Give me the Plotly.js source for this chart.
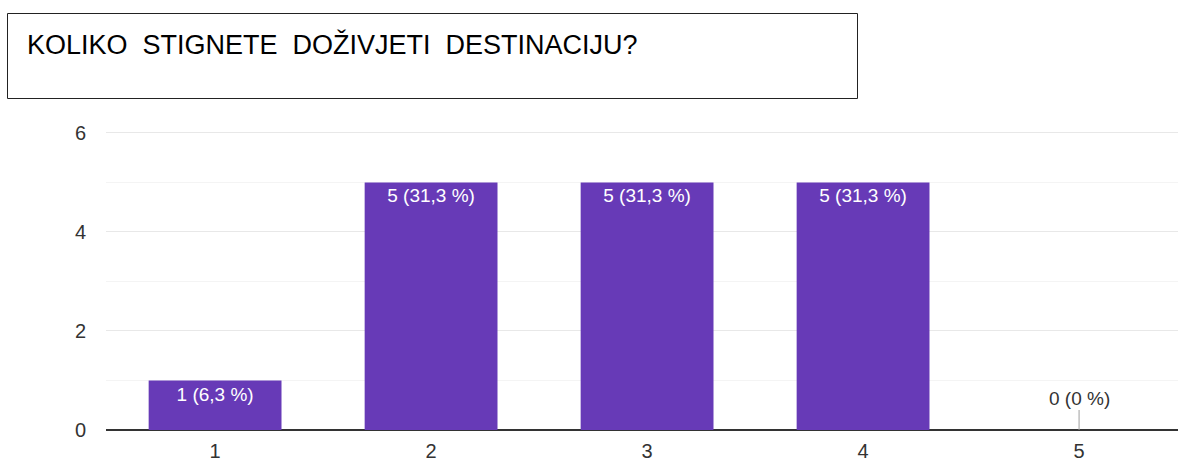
<!DOCTYPE html>
<html>
<head>
<meta charset="utf-8">
<script src="https://cdn.plot.ly/plotly-3.0.1.min.js"></script>
<style>
html,body{margin:0;padding:0;background:#fff;}
#chart{width:1178px;height:461px;}
</style>
</head>
<body>
<div id="chart"></div>
<script>
const categories = ['1', '2', '3', '4', '5'];
const counts = [1, 5, 5, 5, 0];
const percentLabels = ['6,3 %', '31,3 %', '31,3 %', '31,3 %', '0 %'];
const yTickValues = [0, 2, 4, 6];
const chartTitle = 'KOLIKO\u00a0 STIGNETE\u00a0 DOŽIVJETI\u00a0 DESTINACIJU?';

const W = 1178, H = 461;
const L = 106, R = 0, T = 130, B = 31;
const pw = W - L - R, ph = H - T - B;
function px2x(p){ return (p - L) / pw; }
function py2y(p){ return (H - B - p) / ph; }

const labels = counts.map((c, i) => c + ' (' + percentLabels[i] + ')');
const barText = counts.map((c, i) => c > 0 ? labels[i] : '');

const trace = {
  type: 'bar',
  x: categories,
  y: counts,
  text: barText,
  textposition: 'inside',
  insidetextanchor: 'end',
  textangle: 0,
  textfont: {family: 'Liberation Sans, Arial, sans-serif', size: 19, color: '#ffffff'},
  marker: {color: '#673ab7', line: {width: 0}},
  width: 0.615,
  hoverinfo: 'none',
  cliponaxis: false
};

const annotations = [{
  xref: 'paper', yref: 'paper',
  x: px2x(25), y: py2y(44),
  xanchor: 'left', yanchor: 'middle',
  text: chartTitle,
  showarrow: false,
  font: {family: 'Liberation Sans, Arial, sans-serif', size: 27, color: '#000000'}
}];
counts.forEach((c, i) => {
  if (c === 0) {
    annotations.push({
      x: i, y: c, xref: 'x', yref: 'y',
      text: labels[i],
      showarrow: true, arrowhead: 0, arrowwidth: 1, arrowcolor: '#9e9e9e',
      ax: 0, ay: -32, standoff: 0,
      font: {family: 'Liberation Sans, Arial, sans-serif', size: 19, color: '#333333'}
    });
  }
});

const layout = {
  width: W, height: H,
  margin: {l: L, r: R, t: T, b: B, pad: 0},
  paper_bgcolor: '#ffffff', plot_bgcolor: '#ffffff',
  showlegend: false,
  xaxis: {
    type: 'category',
    range: [-0.505, 4.458],
    showgrid: false,
    zeroline: false,
    showline: false,
    ticks: '',
    ticklabelstandoff: 7,
    tickfont: {family: 'Liberation Sans, Arial, sans-serif', size: 20, color: '#333333'},
    fixedrange: true
  },
  yaxis: {
    range: [0, 6.06],
    tickvals: yTickValues,
    showgrid: true,
    gridcolor: '#e8e8e8',
    gridwidth: 1,
    minor: {dtick: 1, showgrid: true, gridcolor: '#f4f4f4', gridwidth: 1},
    zeroline: true,
    zerolinecolor: '#333333',
    zerolinewidth: 1.5,
    showline: false,
    ticks: '',
    ticklabelstandoff: 19,
    tickfont: {family: 'Liberation Sans, Arial, sans-serif', size: 20, color: '#333333'},
    fixedrange: true
  },
  shapes: [{
    type: 'rect', xref: 'paper', yref: 'paper',
    x0: px2x(7.5), x1: px2x(857.5), y0: py2y(13.5), y1: py2y(98.5),
    line: {color: '#222222', width: 1}, fillcolor: 'rgba(0,0,0,0)', layer: 'above'
  }],
  annotations: annotations
};

Plotly.newPlot('chart', [trace], layout, {displayModeBar: false, staticPlot: true});
</script>
</body>
</html>
